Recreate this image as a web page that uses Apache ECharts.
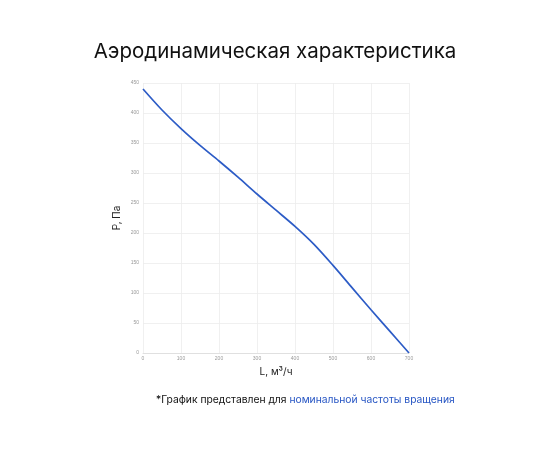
<!DOCTYPE html>
<html><head><meta charset="utf-8">
<script src="https://cdn.jsdelivr.net/npm/echarts@6/dist/echarts.min.js"></script>
<style>html,body{margin:0;padding:0;background:#fff}#c{width:550px;height:450px}</style>
</head><body><div id="c"></div>
<script>
const flowL = [0, 50, 100, 150, 200, 250, 300, 350, 400, 450, 500, 550, 600, 650, 700];
const pressureP = [440, 405, 374, 346, 320, 293, 265, 238, 211, 181, 146, 109, 72, 36, 0];
const titleText = 'Аэродинамическая характеристика';
const noteBlack = '*График представлен для ';
const noteBlue = 'номинальной частоты вращения';
const xName = 'L, м³/ч';
const yName = 'P, Па';

const chart = echarts.init(document.getElementById('c'));
chart.setOption({
  backgroundColor: '#fff',
  animation: false,
  title: [{
    text: titleText, left: 'center', top: 36,
    textStyle: {fontFamily: 'Inter', fontSize: 20.5, fontWeight: 'normal', color: '#111'}
  }, {
    text: '{a|' + noteBlack + '}{b|' + noteBlue + '}', left: 151, top: 390,
    textStyle: {fontWeight: 'normal', rich: {
      a: {fontFamily: 'Inter', fontSize: 10.3, fontWeight: 'normal', color: '#111'},
      b: {fontFamily: 'Inter', fontSize: 10.3, fontWeight: 'normal', color: '#2756c4'}
    }}
  }],
  grid: {left: 143, right: 141, top: 83, bottom: 97},
  xAxis: {
    type: 'value', min: 0, max: 700, interval: 100,
    name: xName, nameLocation: 'middle', nameGap: 14,
    nameTextStyle: {fontFamily: 'Inter', fontSize: 10, color: '#222'},
    axisLine: {show: true, lineStyle: {color: '#e0e0e0'}},
    axisTick: {show: false},
    axisLabel: {fontSize: 5, color: '#999', margin: 3},
    splitLine: {lineStyle: {color: '#ececec', width: 0.8}}
  },
  yAxis: {
    type: 'value', min: 0, max: 450, interval: 50,
    name: yName, nameLocation: 'middle', nameGap: 21,
    nameTextStyle: {fontFamily: 'Inter', fontSize: 10, color: '#222'},
    axisLine: {show: false},
    axisTick: {show: false},
    axisLabel: {fontSize: 5, color: '#999', margin: 4},
    splitLine: {lineStyle: {color: '#ececec', width: 0.8}}
  },
  series: [{
    type: 'line', smooth: 0.3, showSymbol: false,
    data: flowL.map((x, i) => [x, pressureP[i]]),
    lineStyle: {color: '#2d5cc6', width: 1.7}
  }]
});
</script></body></html>
